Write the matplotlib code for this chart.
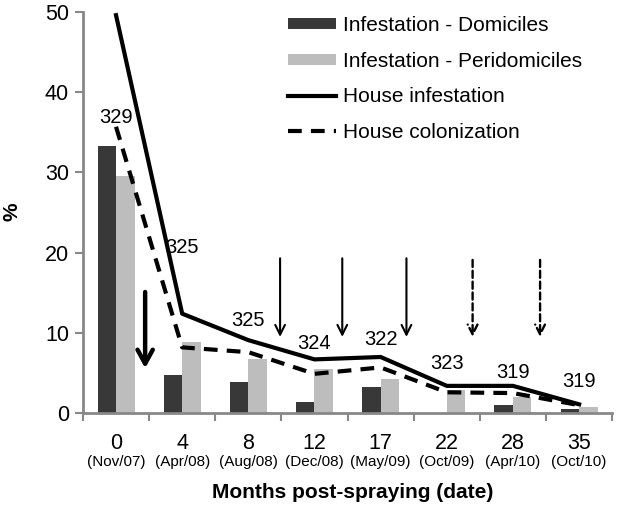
import numpy as np
import matplotlib.pyplot as plt
from matplotlib.transforms import blended_transform_factory

plt.rcParams['font.family'] = ['Liberation Sans', 'DejaVu Sans']

months = ["0", "4", "8", "12", "17", "22", "28", "35"]
dates = ["(Nov/07)", "(Apr/08)", "(Aug/08)", "(Dec/08)",
         "(May/09)", "(Oct/09)", "(Apr/10)", "(Oct/10)"]
domiciles = [33.3, 4.7, 3.9, 1.4, 3.3, 0.0, 1.0, 0.5]
peridomiciles = [29.6, 8.9, 6.7, 5.5, 4.2, 2.9, 2.0, 0.8]
house_infestation = [49.6, 12.4, 9.1, 6.7, 7.0, 3.4, 3.4, 1.1]
house_colonization = [35.7, 8.2, 7.6, 4.9, 5.7, 2.6, 2.5, 1.0]
n_houses = [329, 325, 325, 324, 322, 323, 319, 319]
n_label_y = [36.9, 20.6, 11.6, 8.7, 9.2, 6.2, 5.1, 3.9]

# spraying events (position between sampling dates, top, bottom)
arrows_main = [(0.44, 15.1, 5.6)]
arrows_solid = [(2.48, 19.3, 9.5), (3.42, 19.3, 9.5), (4.39, 19.3, 9.5)]
arrows_dashed = [(5.39, 19.1, 9.5), (6.41, 19.1, 9.5)]

x = np.arange(len(months))
w = 0.28

fig = plt.figure(figsize=(6.19, 5.21), dpi=100)
ax = fig.add_axes([0.134, 0.207, 0.855, 0.77])

b1 = ax.bar(x - w / 2, domiciles, w, color="#383838", label="Infestation - Domiciles")
b2 = ax.bar(x + w / 2, peridomiciles, w, color="#bdbdbd", label="Infestation - Peridomiciles")
l1, = ax.plot(x, house_infestation, color="black", lw=3.0, label="House infestation")
l2, = ax.plot(x, house_colonization, color="black", lw=3.0, dashes=(3.3, 2.2),
              label="House colonization")

for xi, n, yl in zip(x, n_houses, n_label_y):
    ax.text(xi, yl, str(n), ha="center", va="center", fontsize=14.5)

for xa, y0, y1 in arrows_main:
    ax.annotate("", xy=(xa, y1), xytext=(xa, y0),
                arrowprops=dict(arrowstyle="->,head_length=1.0,head_width=0.55",
                                lw=3.2, color="black", shrinkA=0, shrinkB=0))
for xa, y0, y1 in arrows_solid:
    ax.annotate("", xy=(xa, y1), xytext=(xa, y0),
                arrowprops=dict(arrowstyle="->,head_length=0.7,head_width=0.35",
                                lw=1.5, color="black", shrinkA=0, shrinkB=0))
for xa, y0, y1 in arrows_dashed:
    ax.annotate("", xy=(xa, y1), xytext=(xa, y0),
                arrowprops=dict(arrowstyle="->,head_length=0.7,head_width=0.35",
                                lw=1.7, color="black", linestyle=(0, (3, 1.6)),
                                shrinkA=0, shrinkB=0))

ax.set_xlim(-0.5, len(months) - 0.5)
ax.set_ylim(0, 50)
ax.set_yticks(range(0, 51, 10))
ax.set_xticks(x)
ax.set_xticklabels(months)
ax.set_xticks(np.arange(-0.5, len(months)), minor=True)
ax.tick_params(axis="x", which="major", length=0, labelsize=15.5, pad=14)
ax.tick_params(axis="x", which="minor", length=6, width=1.5, color="#888888")
ax.tick_params(axis="y", length=6, width=1.5, color="#888888", labelsize=15.5, pad=4)

for side in ["top", "right"]:
    ax.spines[side].set_visible(False)
for side in ["left", "bottom"]:
    ax.spines[side].set_color("#888888")
    ax.spines[side].set_linewidth(2)

trans = blended_transform_factory(ax.transData, fig.transFigure)
for xi, d in zip(x, dates):
    ax.text(xi, 1 - 462 / 521, d, transform=trans, ha="center", va="center", fontsize=11)

fig.text(12 / 619, 1 - 212 / 521, "%", rotation=90, ha="center", va="center",
         fontsize=15, fontweight="bold")
fig.text(0.57, 1 - 492 / 521, "Months post-spraying (date)", ha="center", va="center",
         fontsize=15, fontweight="bold")

fig.legend([b1, b2, l1, l2], [h.get_label() for h in [b1, b2, l1, l2]],
           loc="upper left", bbox_to_anchor=(288 / 619, 1 - 16 / 521), frameon=False,
           fontsize=15, borderpad=0, borderaxespad=0, handlelength=2.3,
           handleheight=0.45, handletextpad=0.33, labelspacing=0.8)

fig.savefig("out.png", dpi=100)
